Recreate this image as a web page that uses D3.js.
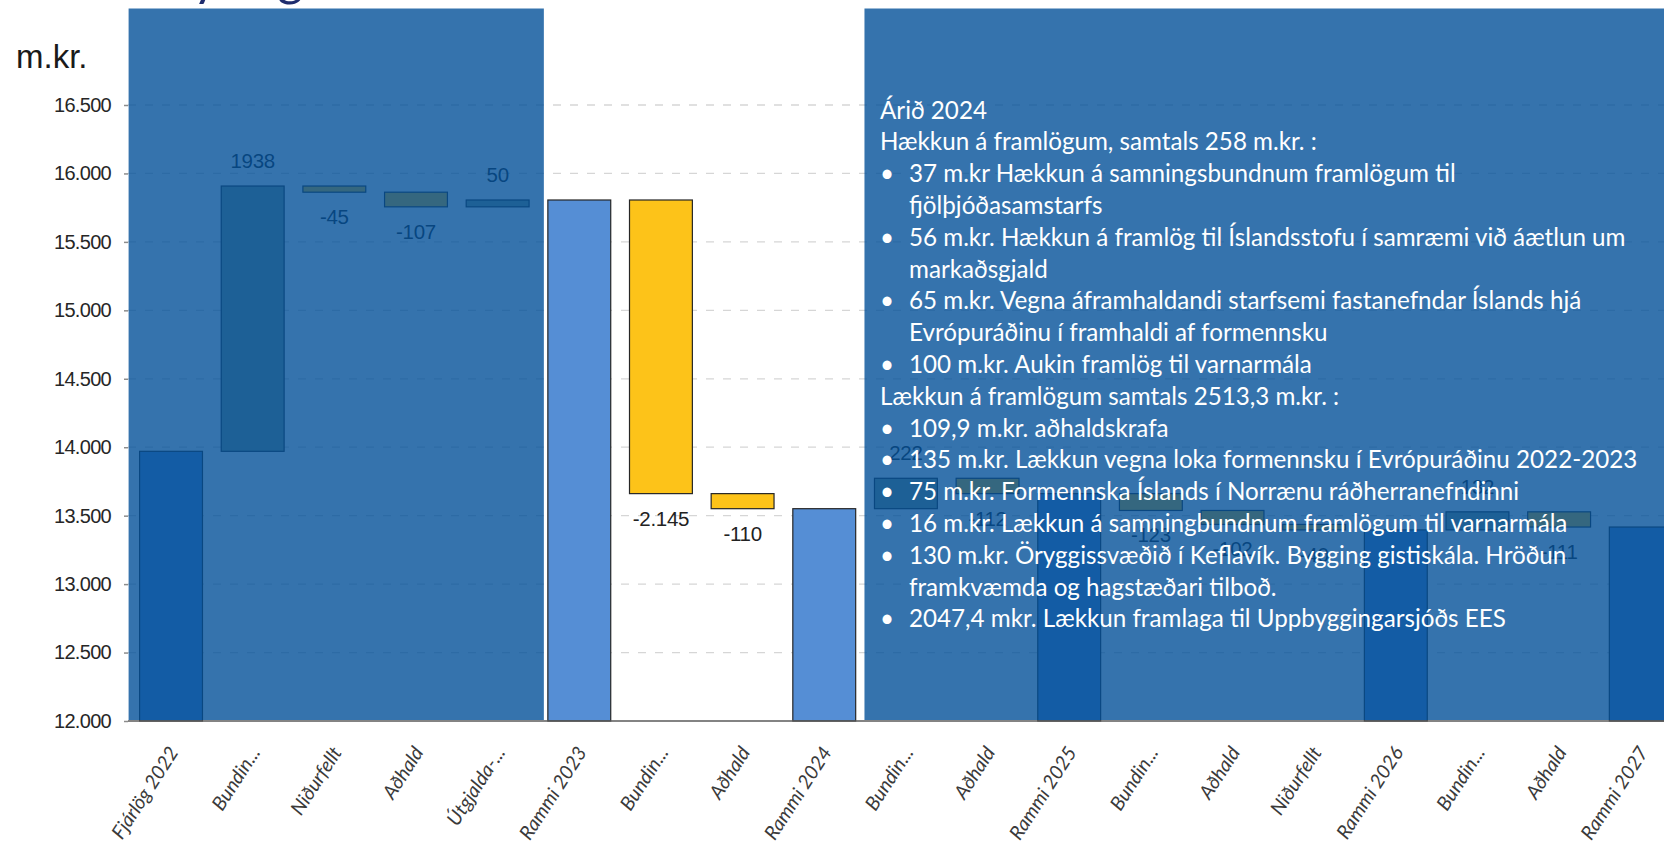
<!DOCTYPE html>
<html>
<head>
<meta charset="utf-8">
<script src="https://cdn.jsdelivr.net/npm/d3@7"></script>
<style>
  body { margin: 0; background: #fff; }
</style>
</head>
<body>
<div id="chart"></div>
<script>
var categories = ["Fjárlög 2022", "Bundin...", "Niðurfellt", "Aðhald", "Útgjalda-...", "Rammi 2023",
  "Bundin...", "Aðhald", "Rammi 2024", "Bundin...", "Aðhald", "Rammi 2025",
  "Bundin...", "Aðhald", "Niðurfellt", "Rammi 2026", "Bundin...", "Aðhald", "Rammi 2027"];
var barTypes = ["total", "up", "down", "down", "up", "total", "down", "down", "total", "up", "down", "total",
  "down", "down", "down", "total", "up", "down", "total"];
// totals carry the start value, the rest carry the change
var changes = [13970, 1938, -45, -107, 50, 0, -2145, -110, 0, 222, -112, 0, -123, -102, -40, 0, 132, -111, 0];
var valueLabels = ["", "1938", "-45", "-107", "50", "", "-2.145", "-110", "", "222", "-112", "",
  "-123", "-102", "-40", "", "132", "-111", ""];
var yTicks = [12000, 12500, 13000, 13500, 14000, 14500, 15000, 15500, 16000, 16500];

var noteLines = [
  {bullet: false, text: "Árið 2024"},
  {bullet: false, text: "Hækkun á framlögum, samtals 258 m.kr. :"},
  {bullet: true, text: "37 m.kr Hækkun á samningsbundnum framlögum til"},
  {bullet: false, indent: true, text: "fjölþjóðasamstarfs"},
  {bullet: true, text: "56 m.kr. Hækkun á framlög til Íslandsstofu í samræmi við áætlun um"},
  {bullet: false, indent: true, text: "markaðsgjald"},
  {bullet: true, text: "65 m.kr. Vegna áframhaldandi starfsemi fastanefndar Íslands hjá"},
  {bullet: false, indent: true, text: "Evrópuráðinu í framhaldi af formennsku"},
  {bullet: true, text: "100 m.kr. Aukin framlög til varnarmála"},
  {bullet: false, text: "Lækkun á framlögum samtals 2513,3 m.kr. :"},
  {bullet: true, text: "109,9 m.kr. aðhaldskrafa"},
  {bullet: true, text: "135 m.kr. Lækkun vegna loka formennsku í Evrópuráðinu 2022-2023"},
  {bullet: true, text: "75 m.kr. Formennska Íslands í Norrænu ráðherranefndinni"},
  {bullet: true, text: "16 m.kr. Lækkun á samningbundnum framlögum til varnarmála"},
  {bullet: true, text: "130 m.kr. Öryggissvæðið í Keflavík. Bygging gistiskála. Hröðun"},
  {bullet: false, indent: true, text: "framkvæmda og hagstæðari tilboð."},
  {bullet: true, text: "2047,4 mkr. Lækkun framlaga til Uppbyggingarsjóðs EES"}
];

var colors = {total: "#558ed5", up: "#86a08a", down: "#fdc319"};

drawWaterfall();

function drawWaterfall() {
  var width = 1664, height = 846;
  var axisX = 128;

  var svg = d3.select("#chart")
    .append("svg")
      .attr("width", width)
      .attr("height", height);

  var x = d3.scaleBand()
    .domain(d3.range(categories.length))
    .range([130.2, 1681.6])
    .paddingInner(0.23)
    .paddingOuter(0.115);

  var y = d3.scaleLinear()
    .domain([12000, 17000])
    .range([721, 36.55]);

  var fmt = d3.formatLocale({decimal: ",", thousands: ".", grouping: [3], currency: ["", ""]}).format(",d");

  // running totals for the waterfall
  var bars = [];
  var running = 0;
  changes.forEach(function(c, i) {
    if (barTypes[i] == "total") {
      if (i == 0) running = c;
      bars.push({i: i, type: "total", y0: 12000, y1: running, label: valueLabels[i]});
    } else {
      bars.push({i: i, type: barTypes[i], y0: running, y1: running + c, label: valueLabels[i], change: c});
      running = running + c;
    }
  });

  // title (cut off at top of slide)
  svg.append("text")
    .attr("x", 118)
    .attr("y", -5)
    .style("font-family", "Lato, sans-serif")
    .style("font-size", "50px")
    .style("fill", "#1f2d6e")
    .text("Breytingar á ramma");

  // gridlines
  svg.append("g")
    .selectAll("line")
    .data(yTicks.slice(1))
    .enter()
    .append("line")
      .attr("x1", axisX)
      .attr("x2", width)
      .attr("y1", function(d) { return y(d); })
      .attr("y2", function(d) { return y(d); })
      .style("stroke", "#d6d6d6")
      .style("stroke-width", 1.3)
      .style("stroke-dasharray", "8,9");

  // bars
  svg.append("g")
    .selectAll("rect")
    .data(bars)
    .enter()
    .append("rect")
      .attr("x", function(d) { return x(d.i); })
      .attr("width", x.bandwidth())
      .attr("y", function(d) { return y(Math.max(d.y0, d.y1)); })
      .attr("height", function(d) { return Math.abs(y(d.y0) - y(d.y1)); })
      .style("fill", function(d) { return colors[d.type]; })
      .style("stroke", "#262626")
      .style("stroke-width", 1.2);

  // value labels
  svg.append("g")
    .selectAll("text")
    .data(bars.filter(function(d) { return d.label; }))
    .enter()
    .append("text")
      .attr("x", function(d) { return x(d.i) + x.bandwidth() / 2; })
      .attr("y", function(d) {
        if (d.change > 0) return y(d.y1) - 18;
        return y(d.y1) + 32;
      })
      .attr("text-anchor", "middle")
      .style("font-family", "'Liberation Sans', Arial, sans-serif")
      .style("font-size", "20.5px")
      .style("letter-spacing", "-0.3px")
      .style("fill", "#222")
      .text(function(d) { return d.label; });

  // y axis
  var yAxis = svg.append("g")
    .attr("transform", "translate(" + axisX + ",0)")
    .call(d3.axisLeft(y).tickValues(yTicks).tickSize(4).tickPadding(13).tickFormat(fmt));
  yAxis.select(".domain").remove();
  yAxis.selectAll(".tick line").style("stroke", "#8c8c8c").style("stroke-width", 1.5);
  yAxis.selectAll(".tick text")
    .style("font-family", "'Liberation Sans', Arial, sans-serif")
    .style("font-size", "20px")
    .style("letter-spacing", "-0.7px")
    .style("fill", "#262626");

  // x axis
  var xAxis = svg.append("g")
    .attr("transform", "translate(0," + y(12000) + ")")
    .call(d3.axisBottom(x).tickSize(0).tickFormat(function(i) { return categories[i]; }));
  xAxis.select(".domain")
    .attr("d", "M" + axisX + ",0H" + width)
    .style("stroke", "#5a5a5a")
    .style("stroke-width", 1.6);
  xAxis.selectAll(".tick text")
    .attr("text-anchor", "end")
    .attr("dy", "0.35em")
    .attr("transform", "translate(0,26) rotate(-57)")
    .style("font-family", "Lato, sans-serif")
    .style("font-style", "italic")
    .style("font-size", "19.5px")
    .style("fill", "#3a3a3a");

  // m.kr. unit label
  svg.append("text")
    .attr("x", 16)
    .attr("y", 68)
    .style("font-family", "'Liberation Sans', Arial, sans-serif")
    .style("font-size", "33px")
    .style("fill", "#1a1a1a")
    .text("m.kr.");

  // translucent slide panels over the chart
  var panels = [
    {x0: axisX + 0.6, x1: x(5) - 4},
    {x0: x(9) - 10, x1: width}
  ];
  svg.append("g")
    .selectAll("rect")
    .data(panels)
    .enter()
    .append("rect")
      .attr("x", function(d) { return d.x0; })
      .attr("width", function(d) { return d.x1 - d.x0; })
      .attr("y", 8.5)
      .attr("height", y(12000) - 9.5)
      .style("fill", "rgb(3,80,153)")
      .style("opacity", 0.8);

  // text in the right panel
  var note = svg.append("g")
    .style("font-family", "Lato, sans-serif")
    .style("font-size", "24.2px")
    .style("fill", "#fff");

  noteLines.forEach(function(l, k) {
    var yy = 118.5 + k * 31.8;
    if (l.bullet) {
      note.append("text").attr("x", 880).attr("y", yy).text("•");
    }
    note.append("text")
      .attr("x", (l.bullet || l.indent) ? 909 : 880)
      .attr("y", yy)
      .text(l.text);
  });
}
</script>
</body>
</html>
